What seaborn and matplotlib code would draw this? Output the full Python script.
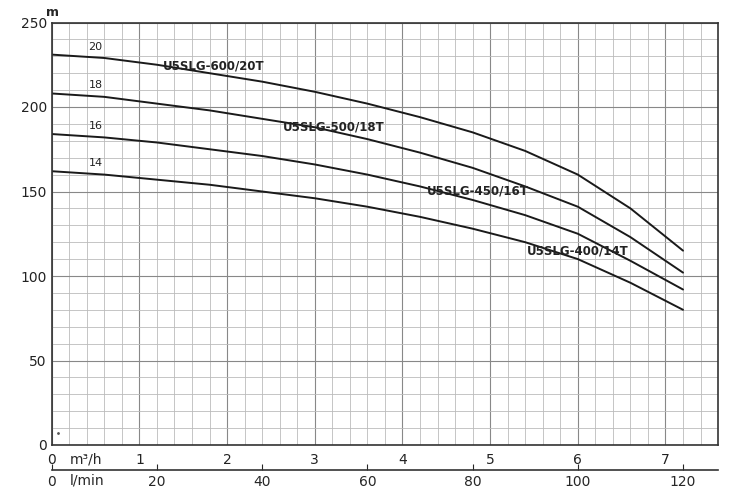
import numpy as np
import pandas as pd
import seaborn as sns
import matplotlib.pyplot as plt

flow_lmin = [0, 10, 20, 30, 40, 50, 60, 70, 80, 90, 100, 110, 120]
head_20 = [231, 229, 225, 220, 215, 209, 202, 194, 185, 174, 160, 140, 115]
head_18 = [208, 206, 202, 198, 193, 188, 181, 173, 164, 153, 141, 123, 102]
head_16 = [184, 182, 179, 175, 171, 166, 160, 153, 145, 136, 125, 109, 92]
head_14 = [162, 160, 157, 154, 150, 146, 141, 135, 128, 120, 110, 96, 80]
stages = ["20", "18", "16", "14"]
models = ["U5SLG-600/20T", "U5SLG-500/18T", "U5SLG-450/16T", "U5SLG-400/14T"]
model_pos = [(30.7, 224), (53.6, 188), (81, 150), (100, 115)]
m3h_ticks = [0, 1, 2, 3, 4, 5, 6, 7]
lmin_ticks = [0, 20, 40, 60, 80, 100, 120]

rows = []
for s, h in zip(stages, [head_20, head_18, head_16, head_14]):
    for q, v in zip(flow_lmin, h):
        rows.append({"q": q, "h": v, "stage": s})
df = pd.DataFrame(rows)

sns.set_style("white")
plt.rcParams['font.family'] = ['DejaVu Sans']
fig = plt.figure(figsize=(7.5, 5), dpi=100)
ax = fig.add_axes([0.069, 0.11, 0.888, 0.845])
xmax = 126.6
conv = 1000 / 60
for i in np.arange(0, 7.61, 0.2):
    x = i * conv
    major = abs(i - round(i)) < 1e-6
    ax.axvline(x, color="#888888" if major else "#bbbbbb", lw=0.8 if major else 0.6, zorder=0)
for y in range(0, 251, 10):
    ax.axhline(y, color="#888888" if y % 50 == 0 else "#bbbbbb", lw=0.8 if y % 50 == 0 else 0.6, zorder=0)

sns.lineplot(data=df, x="q", y="h", units="stage", estimator=None, color="#1a1a1a", lw=1.4, ax=ax, legend=False)

for s, h in zip(stages, [head_20, head_18, head_16, head_14]):
    ax.text(7, h[0] + 3, s, fontsize=8, color="#222")
for m, (x, y) in zip(models, model_pos):
    ax.text(x, y, m, fontsize=8.5, fontweight="bold", ha="center", va="center", color="#222")

ax.set_xlim(0, xmax)
ax.set_ylim(0, 250)
ax.set_yticks([0, 50, 100, 150, 200, 250])
ax.tick_params(axis="y", labelsize=10, length=0, colors="#222")
ax.set_xticks([t * conv for t in m3h_ticks])
ax.set_xticklabels([str(t) for t in m3h_ticks])
ax.tick_params(axis="x", labelsize=10, length=4, direction="out", colors="#222", pad=2)
ax.set_xlabel("")
ax.set_ylabel("")
for sp in ax.spines.values():
    sp.set_color("#333")
    sp.set_linewidth(1.2)
ax.text(-1, 254, "m", fontsize=9, fontweight="bold")
ax.text(3.5, -4.5, "m³/h", fontsize=10, va="top")

sec = ax.secondary_xaxis(-0.06)
sec.set_xticks(lmin_ticks)
sec.tick_params(direction="in", length=4, labelsize=10)
sec.spines["bottom"].set_color("#333")
sec.spines["bottom"].set_linewidth(1.2)
ax.text(3.5, -17, "l/min", fontsize=10, va="top")
ax.plot([1.2], [7], marker=".", ms=2, color="#555")

fig.savefig("out.png", dpi=100)
